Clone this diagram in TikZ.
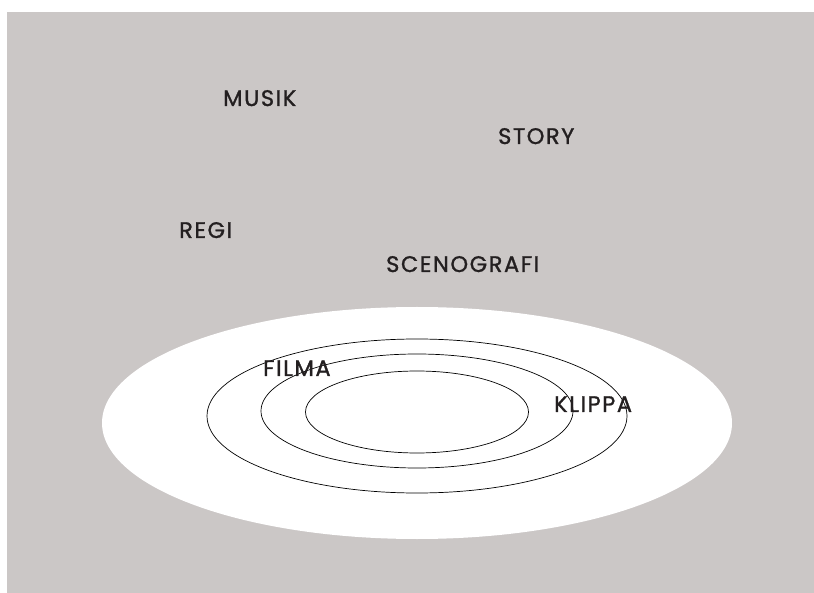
\documentclass[tikz,border=0pt]{standalone}
\usepackage{fontspec}
\setmainfont{Poppins}[LetterSpace=7,FakeBold=1.2]
\definecolor{bggray}{RGB}{203,199,198}
\definecolor{txt}{RGB}{35,31,32}
\begin{document}
\begin{tikzpicture}[x=1pt,y=-1pt,
  lbl/.style={anchor=base west,inner sep=0pt,text=txt,font=\fontsize{22.5}{22.5}\selectfont},
  ring/.style={draw=black,line width=0.7pt}]
\useasboundingbox (0,0) rectangle (814,593);
\fill[bggray] (7,12) rectangle (814,593);
\fill[white] (417,423) ellipse [x radius=315, y radius=116];
\draw[ring] (417,416) ellipse [x radius=210, y radius=77];
\draw[ring] (417,411) ellipse [x radius=156, y radius=57];
\draw[ring] (417,412) ellipse [x radius=111.5, y radius=41];
\node[lbl] (musik) at (223,106) {MUSIK};
\node[lbl] (story) at (498,144) {STORY};
\node[lbl] (regi) at (179,238) {REGI};
\node[lbl] (scen) at (386,272) {SCENOGRAFI};
\node[lbl] (filma) at (263,376) {FILMA};
\node[lbl] (klippa) at (554,412) {KLIPPA};
\end{tikzpicture}
\end{document}
